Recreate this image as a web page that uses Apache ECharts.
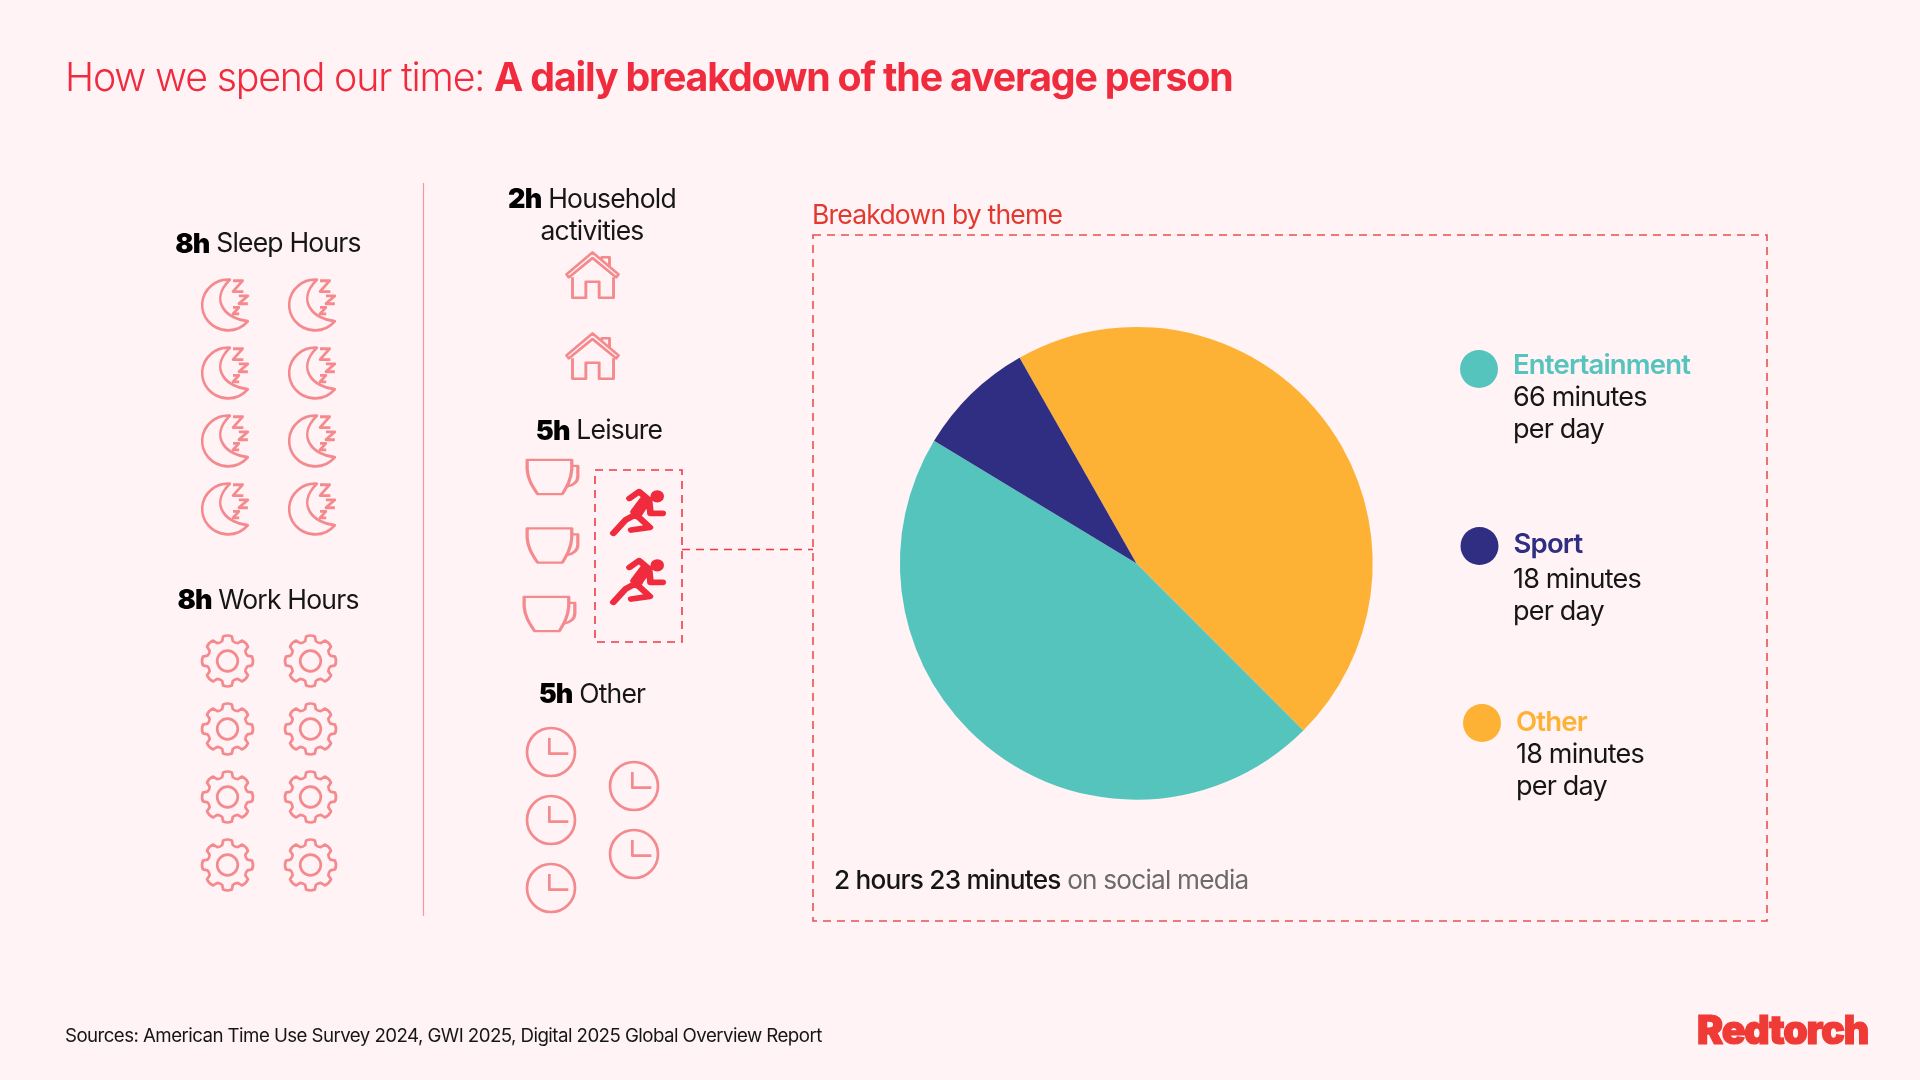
<!DOCTYPE html>
<html><head><meta charset="utf-8">
<style>html,body{margin:0;padding:0;background:#fff3f5}#c{width:1920px;height:1080px}</style>
<script src="https://cdn.jsdelivr.net/npm/echarts@6/dist/echarts.min.js"></script>
</head><body><div id="c"></div>
<script>
// ---- data ----
const themes = ['Other', 'Entertainment', 'Sport'];
const themeMinutes = [65.4, 66, 11.6];
const legendLines = { Entertainment: '66 minutes\nper day', Sport: '18 minutes\nper day', Other: '18 minutes\nper day' };
const sleepHours = 8, workHours = 8, householdHours = 2, leisureRestHours = 3, sportHours = 2, otherHours = 5;
const titleLight = 'How we spend our time: ';
const titleBold = 'A daily breakdown of the average person';
const sourceText = 'Sources: American Time Use Survey 2024, GWI 2025, Digital 2025 Global Overview Report';

// tight tracking as in the original typography
const fontProp = Object.getOwnPropertyDescriptor(CanvasRenderingContext2D.prototype, 'font');
Object.defineProperty(CanvasRenderingContext2D.prototype, 'font', {
  get: fontProp.get,
  set(v) {
    fontProp.set.call(this, v);
    const m = /([\d.]+)px/.exec(v);
    if (m) this.letterSpacing = (-0.03 * parseFloat(m[1])) + 'px';
  }
});

// ---- style ----
const FONT = 'Inter';
const BG = '#fff3f5', ICON = '#f58a8e', RED = '#ef2b3d', DASH = '#e8504e', INK = '#161616';
const themeColor = { Entertainment: '#55c4bc', Sport: '#2f2e82', Other: '#fdb235' };

// ---- icon outlines ----
const moon = 'path://M238 332A75 75 0 1 0 290 455C230 450 175 395 238 332Z' +
  'M247 335L275 335L247 367L277 367M264 380L290 380L264 403L290 403M247 414L264 414L247 433L265 433';
const house = 'path://M307 247L385 313L378 322L307 264L236 322L229 313Z' +
  'M335 268L335 262L358 262L358 290M247 322L247 383L287 383L287 335L327 335L327 383L370 383L370 322';
const cup = 'path://M114 872L246 872L246 900C244 930 232 950 218 973L145 973C130 950 116 930 114 900Z' +
  'M246 890L264 890L264 920C264 938 248 948 234 950';
const clock = 'path://M255 277A72 72 0 1 1 111 277A72 72 0 1 1 255 277ZM178 235L178 282L235 282';
const runner = 'path://M512 979A10 10 0 1 0 492 979A10 10 0 1 0 512 979Z' +
  'M420 985L448 965L478 990L438 1032M462 985L432 1025M470 1000L442 1040M472 985L450 1030' +
  'M478 992L482 1030L518 1030M435 1035L408 1050L372 1090M440 1035L480 1072L425 1080';
function gearPath() {
  const P = (r, d) => { const a = d * Math.PI / 180; return (r * Math.cos(a)).toFixed(2) + ' ' + (r * Math.sin(a)).toFixed(2); };
  let s = '';
  for (let i = 0; i < 8; i++) {
    const a = i * 45 - 90;
    s += (i ? 'Q' + P(19.4, a - 22.5) + ' ' : 'M') + P(20.6, a - 15) + 'L' + P(25, a - 10) + 'Q' + P(26.4, a) + ' ' + P(25, a + 10) + 'L' + P(20.6, a + 15);
  }
  s += 'Q' + P(19.4, -90 - 22.5) + ' ' + P(20.6, -90 - 15) + 'Z';
  s += 'M10.3 0A10.3 10.3 0 1 1 -10.3 0A10.3 10.3 0 1 1 10.3 0Z';
  return 'path://' + s;
}
const gear = gearPath();

// ---- icon blocks: hidden grids, one cell per hour ----
const grids = [], xAxes = [], yAxes = [], series = [];
function cells(count, cols) {
  const out = [];
  for (let i = 0; i < count; i++) out.push([i % cols, Math.floor(i / cols)]);
  return out;
}
function block(name, points, o) {
  const idx = grids.length;
  grids.push({ left: o.cx - o.px / 2, top: o.cy - o.py / 2, width: o.px * o.cols, height: o.py * o.rows });
  xAxes.push({ type: 'value', gridIndex: idx, min: -0.5, max: o.cols - 0.5, show: false });
  yAxes.push({ type: 'value', gridIndex: idx, min: -0.5, max: o.rows - 0.5, inverse: true, show: false });
  series.push({
    type: 'scatter', name, xAxisIndex: idx, yAxisIndex: idx, silent: true, animation: false,
    symbol: o.symbol, symbolSize: o.size, symbolKeepAspect: false, data: points,
    itemStyle: o.filled
      ? { color: 'rgba(0,0,0,0)', borderColor: RED, borderWidth: 6.2, borderCap: 'round', borderJoin: 'round', opacity: 1 }
      : { color: 'rgba(0,0,0,0)', borderColor: ICON, borderWidth: 2.7, borderJoin: 'round', opacity: 1 }
  });
}
block('Sleep icons', cells(sleepHours, 2), { cx: 225, cy: 305, px: 87, py: 68, cols: 2, rows: 4, symbol: moon, size: [45.7, 50.7] });
block('Work icons', cells(workHours, 2), { cx: 227.5, cy: 661, px: 83, py: 68, cols: 2, rows: 4, symbol: gear, size: [51, 51] });
block('Household icons', cells(householdHours, 1), { cx: 592.5, cy: 275, px: 80, py: 81, cols: 1, rows: 2, symbol: house, size: [52, 45.3] });
block('Leisure icons', cells(leisureRestHours, 1).map((p, i) => i === 2 ? { value: p, symbolOffset: [-3, 0] } : p),
  { cx: 552.5, cy: 477, px: 80, py: 68.5, cols: 1, rows: 3, symbol: cup, size: [50.7, 34.3] });
block('Sport icons', cells(sportHours, 1), { cx: 638, cy: 512.5, px: 80, py: 69, cols: 1, rows: 2, symbol: runner, size: [49.3, 41.7], filled: true });
block('Other icons', Array.from({ length: otherHours }, (_, i) => i < 3 ? [0, i] : [1, i - 3 + 0.5]),
  { cx: 551, cy: 752, px: 83, py: 68, cols: 2, rows: 3, symbol: clock, size: [48, 48] });

// ---- pie ----
series.push({
  type: 'pie', name: 'Breakdown by theme', center: [1136.3, 563.3], radius: [0, 236.4], startAngle: 119.6, clockwise: true,
  animation: false, silent: true, label: { show: false }, labelLine: { show: false },
  data: themes.map((t, i) => ({ name: t, value: themeMinutes[i], itemStyle: { color: themeColor[t] } }))
});

// ---- legends ----
function legend(name, left, top, lift) {
  return {
    data: [name], left, top, padding: 0, itemWidth: 38, itemHeight: 38, icon: 'circle', selectedMode: false,
    formatter: n => lift ? '{t|' + n + '}\n{s| }' : '{t|' + n + '}',
    textStyle: {
      padding: [0, 0, 0, 10],
      rich: {
        t: { fontFamily: FONT, fontSize: 27.5, fontWeight: 600, color: themeColor[name] },
        s: { fontFamily: FONT, fontSize: 1, height: lift * 2, lineHeight: lift * 2 }
      }
    }
  };
}
const legends = [legend('Entertainment', 1460, 350, 3), legend('Sport', 1460.5, 527, 1.2), legend('Other', 1463, 704, 0)];

// ---- text and frames ----
function txt(x, y, text, extra) {
  return { type: 'text', x, y: y + 2, silent: true, style: Object.assign({ text, fontFamily: FONT, fontSize: 27, fill: INK, align: 'left', verticalAlign: 'middle' }, extra || {}) };
}
function hoursLabel(x, y, h, label) {
  return txt(x, y, '{h|' + h + '}{l| ' + label + '}', {
    align: 'center',
    rich: { h: { fontFamily: FONT, fontSize: 27, fontWeight: 900, fill: '#000' }, l: { fontFamily: FONT, fontSize: 26.5, fontWeight: 400, fill: INK } }
  });
}
function dashRect(x, y, w, h, stroke) {
  return { type: 'rect', silent: true, shape: { x, y, width: w, height: h }, style: { fill: 'none', stroke, lineWidth: 1.6, lineDash: [8, 6] } };
}
const graphics = [
  { type: 'line', silent: true, shape: { x1: 423.5, y1: 183, x2: 423.5, y2: 916 }, style: { stroke: '#f09a9e', lineWidth: 1.2 } },
  hoursLabel(268, 242.5, '8h', 'Sleep Hours'),
  hoursLabel(268, 599, '8h', 'Work Hours'),
  hoursLabel(592, 198, '2h', 'Household'),
  txt(592, 230, 'activities', { align: 'center', fontSize: 26.5 }),
  hoursLabel(599, 429.5, '5h', 'Leisure'),
  hoursLabel(592, 693, '5h', 'Other'),
  dashRect(595, 470, 87, 172, '#f0384a'),
  { type: 'line', silent: true, shape: { x1: 682, y1: 549.5, x2: 813, y2: 549.5 }, style: { stroke: '#f0384a', lineWidth: 1.6, lineDash: [8, 6] } },
  dashRect(813, 235, 954, 686, DASH),
  txt(812, 214.5, 'Breakdown by theme', { fill: '#e2382f', fontSize: 26.5 }),
  txt(1513, 396, legendLines.Entertainment.split('\n')[0]),
  txt(1513, 428, legendLines.Entertainment.split('\n')[1]),
  txt(1513, 578, legendLines.Sport.split('\n')[0]),
  txt(1513, 610, legendLines.Sport.split('\n')[1]),
  txt(1516, 753, legendLines.Other.split('\n')[0]),
  txt(1516, 785, legendLines.Other.split('\n')[1]),
  txt(834, 879.5, '{a|2 hours 23 minutes}{b| on social media}', {
    rich: { a: { fontFamily: FONT, fontSize: 26.2, fontWeight: 500, fill: INK }, b: { fontFamily: FONT, fontSize: 26.2, fontWeight: 400, fill: '#6b6b6b' } }
  }),
  txt(65, 1034.5, sourceText, { fontSize: 18.7 }),
  txt(1697, 1030, 'Redtorch', { fontSize: 39.3, fontWeight: 900, fill: '#ef3a35', stroke: '#ef3a35', lineWidth: 1.2 })
];

const chart = echarts.init(document.getElementById('c'), null, { renderer: 'canvas', width: 1920, height: 1080 });
chart.setOption({
  backgroundColor: BG, animation: false,
  title: {
    left: 65, top: 60, padding: 0,
    text: '{a|' + titleLight + '}{b|' + titleBold + '}',
    textStyle: { rich: {
      a: { fontFamily: FONT, fontSize: 39.3, fontWeight: 300, color: RED },
      b: { fontFamily: FONT, fontSize: 39.3, fontWeight: 700, color: RED }
    } }
  },
  grid: grids, xAxis: xAxes, yAxis: yAxes, legend: legends, series, graphic: graphics
});
</script></body></html>
